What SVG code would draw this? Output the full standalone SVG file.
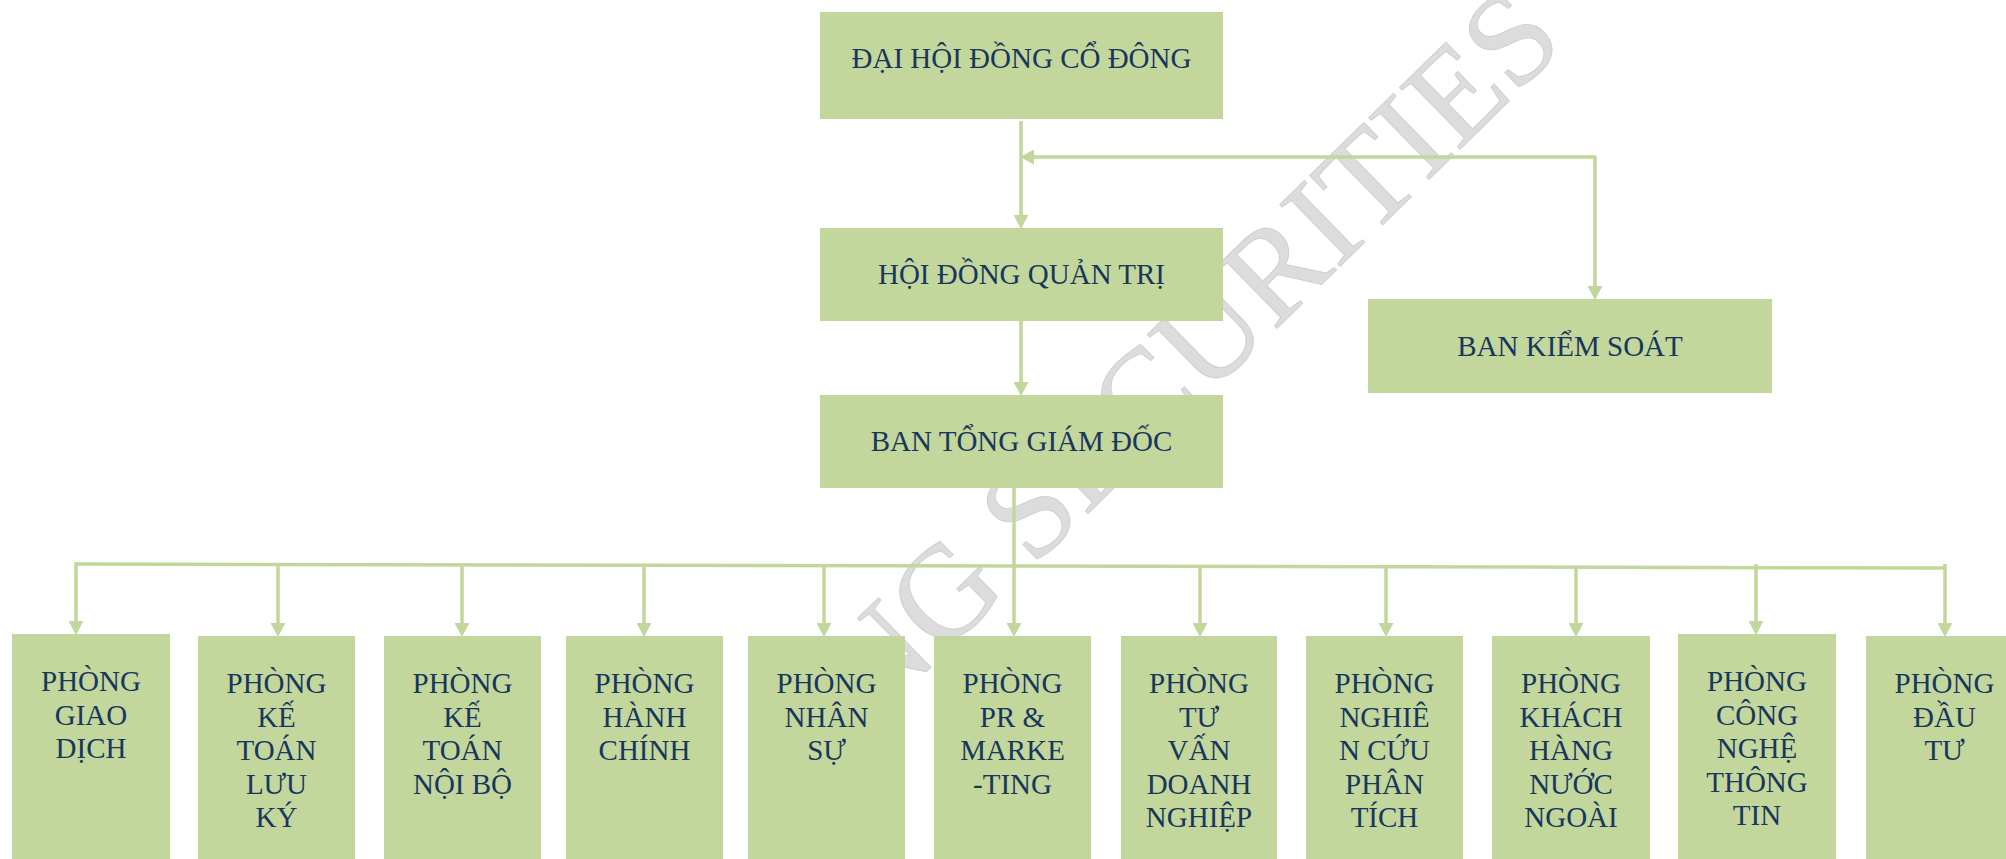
<svg xmlns="http://www.w3.org/2000/svg" width="2006" height="859" viewBox="0 0 2006 859">
<style>
.box{fill:#c3d69b;}
.lbl{font-family:"Liberation Serif","Times New Roman",serif;font-size:29px;fill:#17375e;text-anchor:middle;}
.conn{fill:none;stroke:#c3d69b;stroke-width:3.5;}
.wm{font-family:"Liberation Serif","Times New Roman",serif;font-size:132px;fill:#dcdcdc;stroke:#d0d0d0;stroke-width:1;}
</style>
<defs>
<marker id="ah" markerUnits="userSpaceOnUse" markerWidth="14" markerHeight="15" viewBox="0 0 14 15" refX="1" refY="7.5" orient="auto">
<path d="M0,0 L14,7.5 L0,15 z" fill="#c3d69b"/>
</marker>
</defs>
<rect width="2006" height="859" fill="#ffffff"/>
<g id="watermark">
<text class="wm" x="873" y="724" transform="rotate(-44.4 873 724)">NG SECURITIES</text>
</g>
<g id="dai-hoi-dong-co-dong">
<rect class="box" x="820" y="12" width="403" height="107"/>
<text class="lbl" x="1021.5" y="68">ĐẠI HỘI ĐỒNG CỔ ĐÔNG</text>
</g>
<g id="hoi-dong-quan-tri">
<rect class="box" x="820" y="228" width="403" height="93"/>
<text class="lbl" x="1021.5" y="284">HỘI ĐỒNG QUẢN TRỊ</text>
</g>
<g id="ban-tong-giam-doc">
<rect class="box" x="820" y="395" width="403" height="93"/>
<text class="lbl" x="1021.5" y="451">BAN TỔNG GIÁM ĐỐC</text>
</g>
<g id="ban-kiem-soat">
<rect class="box" x="1368" y="299" width="404" height="94"/>
<text class="lbl" x="1570" y="356">BAN KIỂM SOÁT</text>
</g>
<g id="phong-giao-dich">
<rect class="box" x="12" y="634" width="158" height="240"/>
<text class="lbl" x="91" y="691">PHÒNG</text>
<text class="lbl" x="91" y="724.5">GIAO</text>
<text class="lbl" x="91" y="758">DỊCH</text>
</g>
<g id="phong-ke-toan-luu-ky">
<rect class="box" x="198" y="636" width="157" height="240"/>
<text class="lbl" x="276.5" y="693">PHÒNG</text>
<text class="lbl" x="276.5" y="726.5">KẾ</text>
<text class="lbl" x="276.5" y="760">TOÁN</text>
<text class="lbl" x="276.5" y="793.5">LƯU</text>
<text class="lbl" x="276.5" y="827">KÝ</text>
</g>
<g id="phong-ke-toan-noi-bo">
<rect class="box" x="384" y="636" width="157" height="240"/>
<text class="lbl" x="462.5" y="693">PHÒNG</text>
<text class="lbl" x="462.5" y="726.5">KẾ</text>
<text class="lbl" x="462.5" y="760">TOÁN</text>
<text class="lbl" x="462.5" y="793.5">NỘI BỘ</text>
</g>
<g id="phong-hanh-chinh">
<rect class="box" x="566" y="636" width="157" height="240"/>
<text class="lbl" x="644.5" y="693">PHÒNG</text>
<text class="lbl" x="644.5" y="726.5">HÀNH</text>
<text class="lbl" x="644.5" y="760">CHÍNH</text>
</g>
<g id="phong-nhan-su">
<rect class="box" x="748" y="636" width="157" height="240"/>
<text class="lbl" x="826.5" y="693">PHÒNG</text>
<text class="lbl" x="826.5" y="726.5">NHÂN</text>
<text class="lbl" x="826.5" y="760">SỰ</text>
</g>
<g id="phong-pr-marketing">
<rect class="box" x="934" y="636" width="157" height="240"/>
<text class="lbl" x="1012.5" y="693">PHÒNG</text>
<text class="lbl" x="1012.5" y="726.5">PR &amp;</text>
<text class="lbl" x="1012.5" y="760">MARKE</text>
<text class="lbl" x="1012.5" y="793.5">-TING</text>
</g>
<g id="phong-tu-van-doanh-nghiep">
<rect class="box" x="1121" y="636" width="156" height="240"/>
<text class="lbl" x="1199" y="693">PHÒNG</text>
<text class="lbl" x="1199" y="726.5">TƯ</text>
<text class="lbl" x="1199" y="760">VẤN</text>
<text class="lbl" x="1199" y="793.5">DOANH</text>
<text class="lbl" x="1199" y="827">NGHIỆP</text>
</g>
<g id="phong-nghien-cuu-phan-tich">
<rect class="box" x="1306" y="636" width="157" height="240"/>
<text class="lbl" x="1384.5" y="693">PHÒNG</text>
<text class="lbl" x="1384.5" y="726.5">NGHIÊ</text>
<text class="lbl" x="1384.5" y="760">N CỨU</text>
<text class="lbl" x="1384.5" y="793.5">PHÂN</text>
<text class="lbl" x="1384.5" y="827">TÍCH</text>
</g>
<g id="phong-khach-hang-nuoc-ngoai">
<rect class="box" x="1492" y="636" width="158" height="240"/>
<text class="lbl" x="1571" y="693">PHÒNG</text>
<text class="lbl" x="1571" y="726.5">KHÁCH</text>
<text class="lbl" x="1571" y="760">HÀNG</text>
<text class="lbl" x="1571" y="793.5">NƯỚC</text>
<text class="lbl" x="1571" y="827">NGOÀI</text>
</g>
<g id="phong-cong-nghe-thong-tin">
<rect class="box" x="1678" y="634" width="158" height="240"/>
<text class="lbl" x="1757" y="691">PHÒNG</text>
<text class="lbl" x="1757" y="724.5">CÔNG</text>
<text class="lbl" x="1757" y="758">NGHỆ</text>
<text class="lbl" x="1757" y="791.5">THÔNG</text>
<text class="lbl" x="1757" y="825">TIN</text>
</g>
<g id="phong-dau-tu">
<rect class="box" x="1866" y="636" width="157" height="240"/>
<text class="lbl" x="1944.5" y="693">PHÒNG</text>
<text class="lbl" x="1944.5" y="726.5">ĐẦU</text>
<text class="lbl" x="1944.5" y="760">TƯ</text>
</g>
<g id="connectors">
<path class="conn" d="M1021,121 V216" marker-end="url(#ah)"/>
<path class="conn" d="M1595,157 H1033" marker-end="url(#ah)"/>
<path class="conn" d="M1595,155.5 V287" marker-end="url(#ah)"/>
<path class="conn" d="M1021,321 V383" marker-end="url(#ah)"/>
<path class="conn" d="M1014,488 V624" marker-end="url(#ah)"/>
<path class="conn" d="M76,564 L1945,568"/>
<path class="conn" d="M76,562.5 V622" marker-end="url(#ah)"/>
<path class="conn" d="M278,564 V624" marker-end="url(#ah)"/>
<path class="conn" d="M462,564.5 V624" marker-end="url(#ah)"/>
<path class="conn" d="M644,564.5 V624" marker-end="url(#ah)"/>
<path class="conn" d="M824,565 V624" marker-end="url(#ah)"/>
<path class="conn" d="M1200,565.5 V624" marker-end="url(#ah)"/>
<path class="conn" d="M1386,566 V624" marker-end="url(#ah)"/>
<path class="conn" d="M1576,566.5 V624" marker-end="url(#ah)"/>
<path class="conn" d="M1756,564 V622" marker-end="url(#ah)"/>
<path class="conn" d="M1945,564 V624" marker-end="url(#ah)"/>
</g>
</svg>
